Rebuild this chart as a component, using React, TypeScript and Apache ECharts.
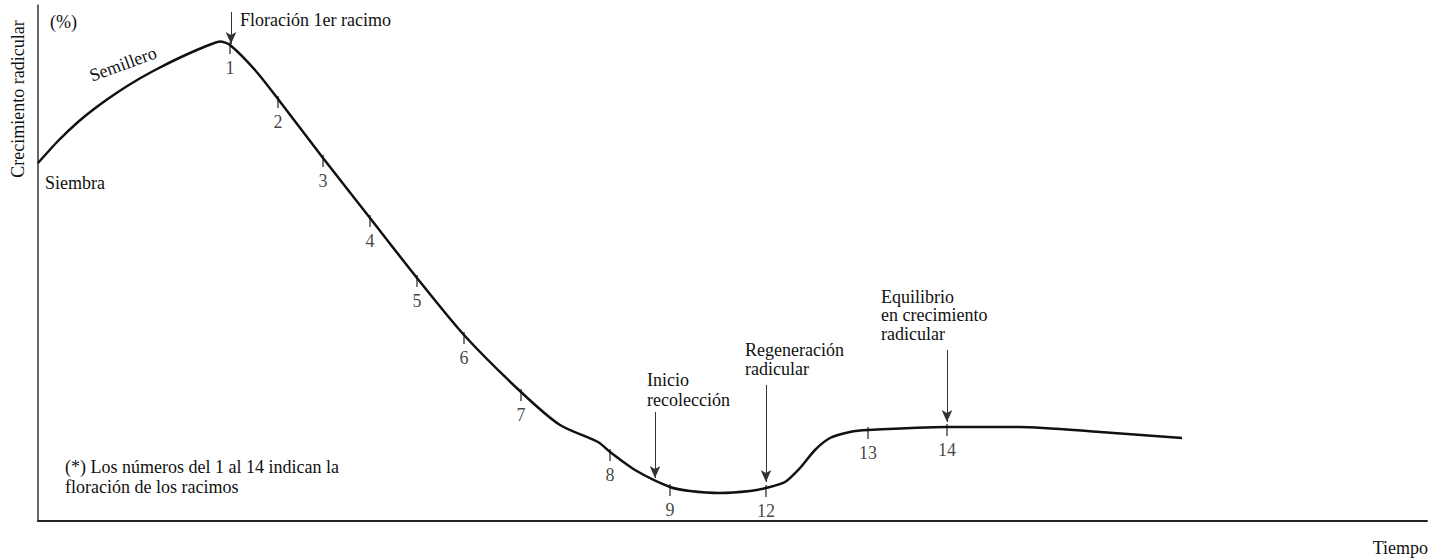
import React, { useEffect, useRef } from "react";
import * as echarts from "echarts";

// Curve of root growth (%) vs time (arbitrary units)
const curveX = [0, 2, 4, 6, 8, 10, 12, 14, 16, 17.5, 18.2, 19.2, 21.7, 24, 28.5, 33.2, 37.9, 42.6, 48.3, 52.2, 56, 57.2, 59.7, 63.2, 65.2, 68.2, 71.2, 72.8, 74.7, 76.2, 77.7, 79.2, 81.2, 83, 90.9, 98.2, 106.2, 114.4];
const curveY = [71.6, 76.0, 79.8, 83.0, 85.8, 88.3, 90.5, 92.5, 94.3, 95.5, 95.9, 95.2, 90.2, 84.4, 72.6, 60.6, 48.6, 37.2, 25.8, 19.2, 15.8, 13.8, 10.2, 6.8, 6.0, 5.6, 6.0, 6.6, 7.8, 10.6, 14.2, 16.6, 17.8, 18.2, 18.8, 18.8, 17.8, 16.6];

// Flowering of trusses (1..14)
const trussLabels = ["1", "2", "3", "4", "5", "6", "7", "8", "9", "12", "13", "14"];
const trussX = [19.2, 24, 28.5, 33.2, 37.9, 42.6, 48.3, 57.2, 63.2, 72.8, 83, 90.9];
const trussY = [95.2, 84.4, 72.6, 60.6, 48.6, 37.2, 25.8, 13.8, 6.8, 6.6, 18.2, 18.8];

// Annotation arrows: x, from y, to y
const arrowX = [19.3, 61.7, 72.8, 90.9];
const arrowFrom = [101.8, 21.8, 27.2, 34.2];
const arrowTo = [95.4, 8.6, 7.8, 19.8];

const FONT = "'Liberation Serif', 'DejaVu Serif', serif";

export default function App() {
  const ref = useRef<HTMLDivElement>(null);
  useEffect(() => {
    const chart = echarts.init(ref.current!, null, { renderer: "svg" });
    const txt = (x: number, y: number, text: string, extra: any = {}) => ({
      type: "text",
      x,
      y,
      style: { text, font: `18px ${FONT}`, fill: "#111", verticalAlign: "middle", ...extra },
    });
    chart.setOption({
      animation: false,
      backgroundColor: "#fff",
      grid: { left: 38, right: 16, top: 5, bottom: 37 },
      xAxis: {
        type: "value",
        min: 0,
        max: 138.9,
        axisLine: { show: true, lineStyle: { color: "#222", width: 2 } },
        axisTick: { show: false },
        axisLabel: { show: false },
        splitLine: { show: false },
      },
      yAxis: {
        type: "value",
        min: 0,
        max: 103.2,
        axisLine: { show: true, lineStyle: { color: "#333", width: 1.5 } },
        axisTick: { show: false },
        axisLabel: { show: false },
        splitLine: { show: false },
      },
      series: [
        {
          type: "line",
          data: curveX.map((x, i) => [x, curveY[i]]),
          smooth: 0.25,
          showSymbol: false,
          lineStyle: { color: "#111", width: 2.5 },
          markLine: {
            silent: true,
            symbol: ["none", "arrow"],
            symbolSize: [8, 12],
            lineStyle: { color: "#333", width: 1, type: "solid" },
            label: { show: false },
            data: arrowX.map((x, i) => [
              { coord: [x, arrowFrom[i]] },
              { coord: [x, arrowTo[i]] },
            ]),
          },
        },
        {
          type: "scatter",
          data: trussX.map((x, i) => [x, trussY[i]]),
          symbol: "rect",
          symbolSize: [1.5, 12],
          symbolOffset: [0, 3],
          itemStyle: { color: "#222" },
          label: {
            show: true,
            position: "bottom",
            distance: 5,
            formatter: (p: any) => trussLabels[p.dataIndex],
            fontFamily: FONT,
            fontSize: 18,
            color: "#111",
          },
        },
      ],
      graphic: [
        {
          type: "text",
          x: 18,
          y: 99,
          rotation: Math.PI / 2,
          style: {
            text: "Crecimiento radicular",
            font: `18px ${FONT}`,
            fill: "#111",
            align: "center",
            verticalAlign: "middle",
          },
        },
        txt(50, 22, "(%)"),
        txt(45, 183, "Siembra"),
        {
          type: "text",
          x: 123,
          y: 64,
          rotation: 0.35,
          style: {
            text: "Semillero",
            font: `18px ${FONT}`,
            fill: "#111",
            align: "center",
            verticalAlign: "middle",
          },
        },
        txt(240, 20, "Floración 1er racimo"),
        txt(647, 380, "Inicio"),
        txt(647, 400, "recolección"),
        txt(745, 350, "Regeneración"),
        txt(745, 369, "radicular"),
        txt(881, 297, "Equilibrio"),
        txt(881, 315, "en crecimiento"),
        txt(881, 334, "radicular"),
        txt(65, 467, "(*) Los números del 1 al 14 indican la"),
        txt(65, 487, "floración de los racimos"),
        txt(1428, 548, "Tiempo", { align: "right" }),
      ],
    });
    return () => chart.dispose();
  }, []);
  return (
    <div
      ref={ref}
      style={{ position: "fixed", left: 0, top: 0, width: 1443, height: 558 }}
    />
  );
}
